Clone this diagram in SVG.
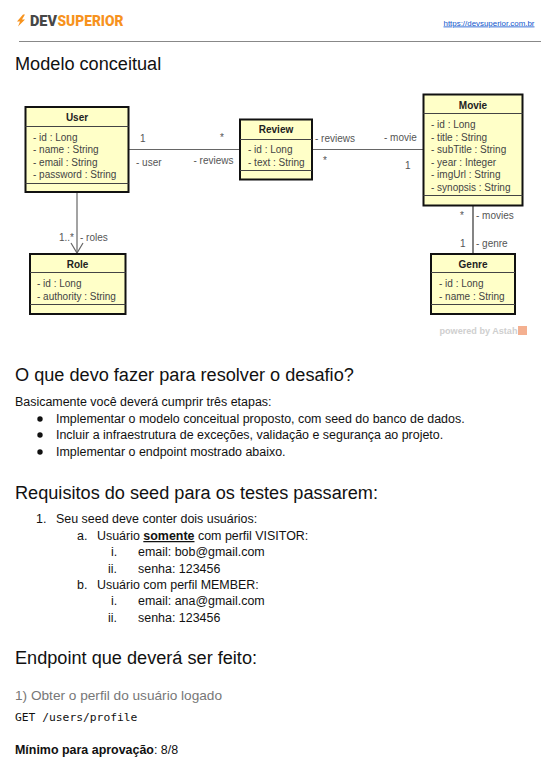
<svg xmlns="http://www.w3.org/2000/svg" width="544" height="765" viewBox="0 0 544 765">
<style>
text{font-family:"Liberation Sans",Arial,sans-serif;fill:#111;white-space:pre}
.h{font-size:18.15px}
.b{font-size:12.45px}
.box{fill:#ffffc8;stroke:#111;stroke-width:2}
.sep{stroke:#444;stroke-width:1;fill:none}
.t{font-size:10px;font-weight:bold;text-anchor:middle;fill:#222}
.a{font-size:10px;fill:#444}
.c{stroke:#666;stroke-width:1.2;fill:none}
.m{font-size:10px;fill:#555}
.logo{font-family:Roboto,sans-serif;font-size:15.400px;font-weight:900}
</style>
<g id="header">
<path d="M23 14.500L17 21.500H20L18 26.500L25 19.500H22L25 14.500Z" fill="#f7931e"/>
<text class="logo" x="30" y="25.700" textLength="27" lengthAdjust="spacingAndGlyphs" style="fill:#474747">DEV</text>
<text class="logo" x="57.500" y="25.700" textLength="66" lengthAdjust="spacingAndGlyphs" style="fill:#f7931e">SUPERIOR</text>
<text x="443.500" y="25.500" textLength="91" lengthAdjust="spacingAndGlyphs" style="font-size:8px;fill:#1155cc;text-decoration:underline">https://devsuperior.com.br</text>
<path d="M19 41.500H541" stroke="#888" stroke-width="1.200"/>
<text class="h" x="15" y="70">Modelo conceitual</text>
</g>
<g id="connectors">
<path class="c" d="M129 149.500H240"/>
<path class="c" d="M312 149.500H423"/>
<path class="c" d="M77 192V253"/>
<path class="c" d="M71 243L77 253L83 243"/>
<path class="c" d="M473 205V254" style="stroke-width:1.600"/>
<text class="m" x="140" y="142">1</text>
<text class="m" x="220" y="141">*</text>
<text class="m" x="136" y="166">- user</text>
<text class="m" x="193.500" y="164">- reviews</text>
<text class="m" x="315" y="142">- reviews</text>
<text class="m" x="323" y="164">*</text>
<text class="m" x="384" y="141">- movie</text>
<text class="m" x="405" y="169">1</text>
<text class="m" x="59" y="241">1..*</text>
<text class="m" x="80" y="241">- roles</text>
<text class="m" x="460" y="219">*</text>
<text class="m" x="476" y="219">- movies</text>
<text class="m" x="460" y="247">1</text>
<text class="m" x="476" y="247">- genre</text>
</g>
<g id="user">
<rect class="box" x="25.500" y="107" width="103" height="85"/>
<path class="sep" d="M25.500 126.500H128.500M25.500 183.500H128.500"/>
<text class="t" x="77" y="121">User</text>
<text class="a" x="33" y="140.500">- id : Long</text>
<text class="a" x="33" y="153">- name : String</text>
<text class="a" x="33" y="165.500">- email : String</text>
<text class="a" x="33" y="178">- password : String</text>
</g>
<g id="review">
<rect class="box" x="240" y="119.500" width="72" height="60"/>
<path class="sep" d="M240 139.500H312M240 170.500H312"/>
<text class="t" x="276" y="133">Review</text>
<text class="a" x="248" y="153">- id : Long</text>
<text class="a" x="248" y="165.500">- text : String</text>
</g>
<g id="movie">
<rect class="box" x="423.500" y="94.500" width="99" height="111"/>
<path class="sep" d="M423.500 113.500H522.500M423.500 195.500H522.500"/>
<text class="t" x="473" y="109">Movie</text>
<text class="a" x="431" y="128">- id : Long</text>
<text class="a" x="431" y="140.500">- title : String</text>
<text class="a" x="431" y="153">- subTitle : String</text>
<text class="a" x="431" y="165.500">- year : Integer</text>
<text class="a" x="431" y="178">- imgUrl : String</text>
<text class="a" x="431" y="190.500">- synopsis : String</text>
</g>
<g id="role">
<rect class="box" x="30" y="254" width="95.500" height="60"/>
<path class="sep" d="M30 272.500H125.500M30 304.500H125.500"/>
<text class="t" x="77.500" y="268">Role</text>
<text class="a" x="37" y="287">- id : Long</text>
<text class="a" x="37" y="300">- authority : String</text>
</g>
<g id="genre">
<rect class="box" x="431" y="254" width="84" height="60"/>
<path class="sep" d="M431 272.500H515M431 304.500H515"/>
<text class="t" x="473" y="268">Genre</text>
<text class="a" x="439" y="287">- id : Long</text>
<text class="a" x="439" y="300">- name : String</text>
</g>
<g id="astah">
<text x="439.500" y="334" textLength="78" lengthAdjust="spacingAndGlyphs" style="font-size:9.500px;font-weight:bold;fill:#cfcfcf">powered by Astah</text>
<rect x="518" y="326" width="9" height="9" fill="#f4b090"/>
</g>
<g id="body">
<text class="h" x="15" y="381">O que devo fazer para resolver o desafio?</text>
<text class="b" x="15" y="405.500">Basicamente você deverá cumprir três etapas:</text>
<circle cx="40" cy="419" r="2.700" fill="#111"/><text class="b" x="56" y="423">Implementar o modelo conceitual proposto, com seed do banco de dados.</text>
<circle cx="40" cy="435" r="2.700" fill="#111"/><text class="b" x="56" y="439">Incluir a infraestrutura de exceções, validação e segurança ao projeto.</text>
<circle cx="40" cy="452" r="2.700" fill="#111"/><text class="b" x="56" y="456">Implementar o endpoint mostrado abaixo.</text>
<text class="h" x="15" y="499">Requisitos do seed para os testes passarem:</text>
<text class="b" x="36" y="523">1.</text><text class="b" x="56" y="523">Seu seed deve conter dois usuários:</text>
<text class="b" x="77" y="540">a.</text><text class="b" x="97" y="540">Usuário <tspan font-weight="bold" text-decoration="underline">somente</tspan> com perfil VISITOR:</text>
<text class="b" x="111" y="556">i.</text><text class="b" x="138" y="556">email: bob@gmail.com</text>
<text class="b" x="108" y="573">ii.</text><text class="b" x="138" y="573">senha: 123456</text>
<text class="b" x="77" y="589">b.</text><text class="b" x="97" y="589">Usuário com perfil MEMBER:</text>
<text class="b" x="111" y="605">i.</text><text class="b" x="138" y="605">email: ana@gmail.com</text>
<text class="b" x="108" y="622">ii.</text><text class="b" x="138" y="622">senha: 123456</text>
<text class="h" x="15" y="664">Endpoint que deverá ser feito:</text>
<text x="15" y="699.500" style="font-size:13.650px;fill:#777">1) Obter o perfil do usuário logado</text>
<text x="15" y="721" style="font-family:'DejaVu Sans Mono',monospace;font-size:11.300px">GET /users/profile</text>
<text class="b" x="15" y="754"><tspan font-weight="bold">Mínimo para aprovação</tspan>: 8/8</text>
</g>
</svg>
